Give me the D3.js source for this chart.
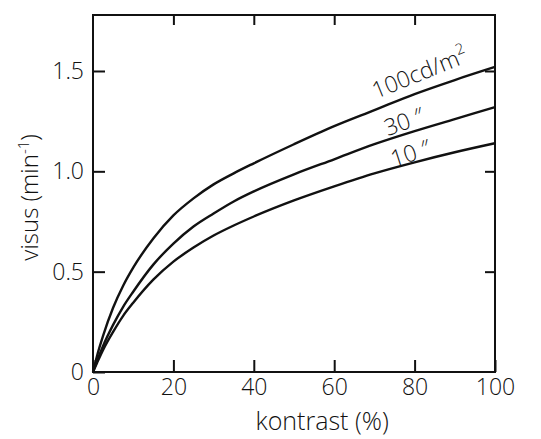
<!DOCTYPE html>
<html>
<head>
<meta charset="utf-8">
<script src="https://cdn.jsdelivr.net/npm/d3@7"></script>
<style>
  body { margin: 0; background: #fff; }
  text { font-family: "Open Sans", "DejaVu Sans", sans-serif; font-weight: 300; fill: #111; }
</style>
</head>
<body>
<div id="chart"></div>
<script>
// contrast values (%)
const kontrast = [0, 1, 2.5, 5, 7.5, 10, 15, 20, 25, 30, 35, 40, 50, 60, 70, 80, 90, 100];
// visus (min^-1) for each luminance level
const visus100 = [0, 0.08, 0.18, 0.32, 0.43, 0.52, 0.665, 0.78, 0.865, 0.935, 0.99, 1.04, 1.135, 1.225, 1.305, 1.385, 1.455, 1.52];
const visus30  = [0, 0.055, 0.13, 0.235, 0.325, 0.40, 0.535, 0.64, 0.725, 0.79, 0.85, 0.90, 0.985, 1.06, 1.135, 1.20, 1.26, 1.32];
const visus10  = [0, 0.045, 0.11, 0.20, 0.28, 0.345, 0.46, 0.55, 0.62, 0.68, 0.73, 0.775, 0.855, 0.925, 0.99, 1.045, 1.095, 1.14];
const xTicks = [0, 20, 40, 60, 80, 100];
const yTicks = [0, 0.5, 1.0, 1.5];
const yTickLabels = ["0", "0.5", "1.0", "1.5"];
const seriesLabels = ["100cd/m", "30 \u2033", "10 \u2033"];

const W = 541, H = 439;
const margin = {top: 15, right: 46, bottom: 67, left: 93};
const width = W - margin.left - margin.right,
      height = H - margin.top - margin.bottom;

const svg = d3.select("#chart")
    .append("svg")
    .attr("width", W)
    .attr("height", H)
    .append("g")
    .attr("transform", `translate(${margin.left},${margin.top})`);

const x = d3.scaleLinear().domain([0, 100]).range([0, width]);
const y = d3.scaleLinear().domain([0, 1.779]).range([height, 0]);

// bottom axis, ticks pointing inward
const xAxis = svg.append("g")
    .attr("transform", `translate(0,${height})`)
    .call(d3.axisBottom(x).tickValues(xTicks).tickSizeInner(-12).tickSizeOuter(0).tickPadding(7));
xAxis.select(".domain").remove();
xAxis.selectAll("line").attr("stroke", "#111").attr("stroke-width", 2);
xAxis.selectAll("text").attr("font-size", 23).style("font-family", null);

// left axis
const yAxis = svg.append("g")
    .call(d3.axisLeft(y).tickValues(yTicks).tickFormat((d, i) => yTickLabels[i])
        .tickSizeInner(-12).tickSizeOuter(0).tickPadding(9));
yAxis.select(".domain").remove();
yAxis.selectAll("line").attr("stroke", "#111").attr("stroke-width", 2);
yAxis.selectAll("text").attr("font-size", 23).style("font-family", null);

// top and right: inward ticks only
const topAxis = svg.append("g")
    .call(d3.axisTop(x).tickValues(xTicks.slice(1, -1)).tickSizeInner(-10).tickSizeOuter(0).tickFormat(""));
topAxis.select(".domain").remove();
topAxis.selectAll("line").attr("stroke", "#111").attr("stroke-width", 2);

const rightAxis = svg.append("g")
    .attr("transform", `translate(${width},0)`)
    .call(d3.axisRight(y).tickValues(yTicks.slice(1)).tickSizeInner(-10).tickSizeOuter(0).tickFormat(""));
rightAxis.select(".domain").remove();
rightAxis.selectAll("line").attr("stroke", "#111").attr("stroke-width", 2);

// frame
svg.append("rect")
    .attr("width", width)
    .attr("height", height)
    .attr("fill", "none")
    .attr("stroke", "#111")
    .attr("stroke-width", 2);

// curves
const line = d3.line()
    .x(d => x(d[0]))
    .y(d => y(d[1]))
    .curve(d3.curveMonotoneX);

[visus100, visus30, visus10].forEach(vals => {
    svg.append("path")
        .datum(kontrast.map((k, i) => [k, vals[i]]))
        .attr("fill", "none")
        .attr("stroke", "#111")
        .attr("stroke-width", 2.4)
        .attr("d", line);
});

// curve labels
const labelPos = [[70.4, 1.36, -22], [73.3, 1.175, -20], [74.8, 1.02, -18]];
seriesLabels.forEach((s, i) => {
    const [lx, ly, a] = labelPos[i];
    const t = svg.append("text")
        .attr("transform", `translate(${x(lx)},${y(ly)}) rotate(${a})`)
        .attr("font-size", 23)
        .text(s);
    if (i === 0) {
        t.append("tspan").attr("dy", -10).attr("font-size", 15).text("2");
    }
});

// axis titles
svg.append("text")
    .attr("x", x(57))
    .attr("y", height + 58)
    .attr("text-anchor", "middle")
    .attr("font-size", 25)
    .text("kontrast (%)");

const yt = svg.append("text")
    .attr("transform", `translate(${-55},${y(0.87)}) rotate(-90)`)
    .attr("text-anchor", "middle")
    .attr("font-size", 24)
    .text("visus (min");
yt.append("tspan").attr("dy", -9).attr("font-size", 15).text("-1");
yt.append("tspan").attr("dy", 9).text(")");
</script>
</body>
</html>
